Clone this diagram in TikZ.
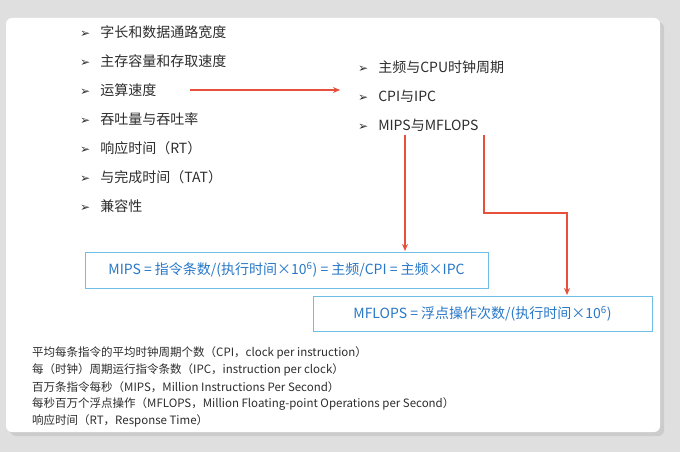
\documentclass[tikz,border=0pt]{standalone}
\usepackage{fontspec}
\setmainfont{Noto Sans CJK SC}
\newfontfamily\symfont{DejaVu Sans}
\usetikzlibrary{arrows.meta}
\definecolor{txtgray}{RGB}{45,45,45}
\definecolor{arrred}{RGB}{232,80,60}
\definecolor{boxblue}{RGB}{110,190,230}
\definecolor{fmlblue}{RGB}{40,120,200}

\tikzset{
  item/.style={anchor=west,font=\fontsize{14}{16}\selectfont,text=txtgray,inner sep=0pt},
  note/.style={anchor=west,font=\fontsize{11.5}{13}\selectfont,text=txtgray,inner sep=0pt},
  fml/.style={draw=boxblue,line width=1pt,text=fmlblue,font=\fontsize{14}{16}\selectfont,inner sep=0pt},
  link/.style={arrred,line width=1.2pt,-{Stealth[length=7pt,width=6pt]}}
}
\newcommand{\bul}{{\symfont\fontsize{12}{12}\selectfont ➢}\hspace{10pt}}

\begin{document}
\begin{tikzpicture}[x=1pt,y=-1pt]
\useasboundingbox (0,0) rectangle (680,452);
\fill[gray!25] (0,0) rectangle (680,452);
\fill[gray!40,rounded corners=6pt] (10,22) rectangle (664,436);
\fill[white,rounded corners=6pt] (6,18) rectangle (660,432);

% factors of performance
\node[item] (len) at (80,32) {\bul 字长和数据通路宽度};
\node[item] (mem) at (80,61) {\bul 主存容量和存取速度};
\node[item] (spd) at (80,90) {\bul 运算速度};
\node[item] (thr) at (80,119) {\bul 吞吐量与吞吐率};
\node[item] (rt)  at (80,148) {\bul 响应时间（RT）};
\node[item] (tat) at (80,177) {\bul 与完成时间（TAT）};
\node[item] (cmp) at (80,206) {\bul 兼容性};

% speed measures
\node[item] (clk)  at (358,67) {\bul 主频与CPU时钟周期};
\node[item] (cpi)  at (358,96) {\bul CPI与IPC};
\node[item] (mips) at (358,125) {\bul MIPS与MFLOPS};

% formulas
\node[fml,minimum width=403pt,minimum height=36pt] (fmips) at (286.5,270)
  {MIPS = 指令条数/(执行时间×10\textsuperscript{6}) = 主频/CPI = 主频×IPC};
\node[fml,minimum width=339pt,minimum height=35pt] (fflops) at (482.5,313.5)
  {MFLOPS = 浮点操作次数/(执行时间×10\textsuperscript{6})};

\coordinate (a0) at (190,90);
\coordinate (a1) at (340,90);
\coordinate (m0) at (405,135);
\coordinate (m1) at (405,251);
\coordinate (f0) at (484,135);
\coordinate (f1) at (567,213);
\coordinate (f2) at (567,295);
\draw[link] (a0) -- (a1);
\draw[link] (m0) -- (m1);
\draw[link] (f0) |- (f1) -- (f2);

% glossary
\node[note] (g1) at (32,353) {平均每条指令的平均时钟周期个数（CPI，clock per instruction）};
\node[note] (g2) at (32,370) {每（时钟）周期运行指令条数（IPC，instruction per clock）};
\node[note] (g3) at (32,387) {百万条指令每秒（MIPS，Million Instructions Per Second）};
\node[note] (g4) at (32,404) {每秒百万个浮点操作（MFLOPS，Million Floating-point Operations per Second）};
\node[note] (g5) at (32,421) {响应时间（RT，Response Time）};
\end{tikzpicture}
\end{document}
